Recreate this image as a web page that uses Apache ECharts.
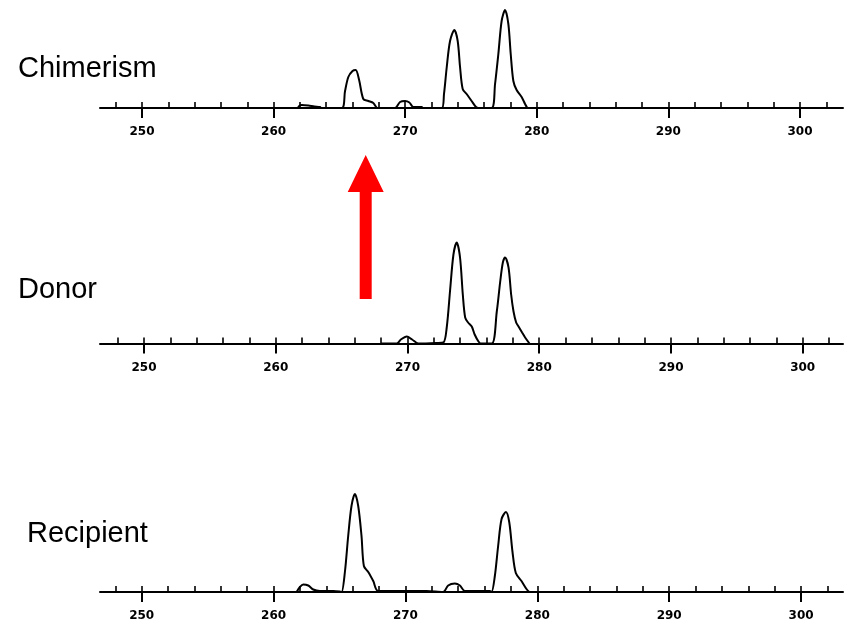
<!DOCTYPE html>
<html>
<head>
<meta charset="utf-8">
<script src="https://cdn.jsdelivr.net/npm/echarts@6/dist/echarts.min.js"></script>
<style>
  html, body { margin: 0; padding: 0; background: #ffffff; }
  #chart { width: 848px; height: 624px; }
</style>
</head>
<body>
<div id="chart"></div>
<script>
// Fragment sizes (bp) and signal heights for each electropherogram trace
const chimerismSize = [261.85, 261.95, 262.14, 262.64, 263.1, 263.53, 263.62, 265.18, 265.43, 265.68, 266.0, 266.24, 266.5, 266.82, 267.2, 267.58, 267.89, 269.23, 269.61, 269.99, 270.32, 270.62, 271.26, 271.32, 272.78, 272.95, 273.16, 273.41, 273.74, 273.99, 274.17, 274.37, 274.67, 275.05, 275.38, 275.56, 276.57, 276.83, 277.08, 277.33, 277.59, 277.84, 278.02, 278.22, 278.47, 278.85, 279.11, 279.28];
const chimerismSignal = [0, 2, 3, 2.5, 1.5, 1, 0, 0, 17, 31, 37, 38, 28, 9, 7, 5, 0, 0, 6, 7, 5.5, 1, 1, 0, 0, 14, 41, 67, 78, 67, 41, 19, 14, 7, 1, 0, 0, 24, 54, 87, 98, 84, 54, 27, 18, 11, 4, 0];

const donorSize = [268.0, 269.19, 269.5, 269.95, 270.35, 270.83, 272.2, 272.73, 272.98, 273.24, 273.49, 273.74, 273.99, 274.2, 274.38, 274.6, 274.88, 275.1, 275.39, 275.56, 276.4, 276.78, 277.04, 277.24, 277.41, 277.67, 277.87, 278.05, 278.25, 278.43, 278.7, 278.93, 279.26];
const donorSignal = [0, 0, 4, 7, 4, 0, 0.5, 1, 16, 54, 89, 101, 86, 49, 26, 21, 17, 9, 2, 0, 0, 32, 62, 81, 86, 76, 49, 32, 21, 17, 11, 6, 0];

const recipientSize = [261.75, 262.0, 262.25, 262.63, 263.01, 263.51, 264.52, 265.03, 265.16, 265.41, 265.66, 265.91, 266.17, 266.42, 266.67, 266.85, 267.18, 267.56, 267.94, 271.6, 272.86, 273.24, 273.75, 274.13, 274.51, 276.4, 276.53, 276.78, 277.03, 277.29, 277.62, 277.87, 278.12, 278.37, 278.8, 279.18, 279.38];
const recipientSignal = [0, 5, 7.5, 6.5, 2.5, 1, 1, 0.5, 0, 20, 56, 86, 98, 86, 56, 26, 20, 11, 1, 1, 0, 6.5, 8.5, 6.5, 1, 1, 0, 16, 46, 73, 80, 70, 40, 19, 11, 3, 0];

// Axis ticks (bp)
const majorTicks = [250, 260, 270, 280, 290, 300];
const minorTicks = [248, 250, 252, 254, 256, 258, 260, 262, 264, 266, 268, 270, 272, 274, 276, 278, 280, 282, 284, 286, 288, 290, 292, 294, 296, 298, 300, 302];

const panelNames = ['Chimerism', 'Donor', 'Recipient'];
const panelSizes = [chimerismSize, donorSize, recipientSize];
const panelSignals = [chimerismSignal, donorSignal, recipientSignal];

// Layout of the three stacked panels
const layout = [
  { baseline: 108,   xMin: 246.81, xMax: 303.27, nameLeft: 18, nameTop: 54 },
  { baseline: 343.5, xMin: 246.66, xMax: 303.06, nameLeft: 18, nameTop: 275 },
  { baseline: 592,   xMin: 246.84, xMax: 303.18, nameLeft: 27, nameTop: 519 }
];
const PANEL_HEIGHT = 105;
const CHART_H = 624;

const grids = [], xAxes = [], yAxes = [], series = [], titles = [];

layout.forEach((p, i) => {
  grids.push({
    left: 100, right: 5,
    top: p.baseline - PANEL_HEIGHT,
    bottom: CHART_H - p.baseline
  });
  // main axis: line, long ticks below, labels
  xAxes.push({
    type: 'value', gridIndex: i, min: p.xMin, max: p.xMax, position: 'bottom',
    axisLine: { show: true, onZero: false, lineStyle: { color: '#000', width: 2 } },
    axisTick: { show: true, inside: false, length: 10, customValues: majorTicks,
                lineStyle: { color: '#000', width: 2 } },
    axisLabel: { show: true, customValues: majorTicks, margin: 18, color: '#000',
                 fontFamily: 'DejaVu Sans', fontWeight: 'bold', fontSize: 12 },
    splitLine: { show: false }
  });
  // short ticks above the axis every 2 bp
  xAxes.push({
    type: 'value', gridIndex: i, min: p.xMin, max: p.xMax, position: 'bottom',
    axisLine: { show: false, onZero: false },
    axisTick: { show: true, inside: true, length: 6, customValues: minorTicks,
                lineStyle: { color: '#000', width: 1.6 } },
    axisLabel: { show: false },
    splitLine: { show: false }
  });
  yAxes.push({
    type: 'value', gridIndex: i, min: 0, max: PANEL_HEIGHT, show: false
  });
  series.push({
    name: panelNames[i],
    type: 'line',
    xAxisIndex: i * 2, yAxisIndex: i,
    data: panelSizes[i].map((s, k) => [s, panelSignals[i][k]]),
    showSymbol: false, symbol: 'none',
    smooth: 0.3,
    lineStyle: { color: '#000', width: 2 },
    animation: false,
    z: 3
  });
  titles.push({
    text: panelNames[i], left: p.nameLeft, top: p.nameTop, padding: 0,
    textStyle: { fontFamily: 'Liberation Sans, Arial, sans-serif', fontSize: 29,
                 fontWeight: 'normal', color: '#000' }
  });
});

const chart = echarts.init(document.getElementById('chart'), null, { renderer: 'canvas' });
chart.setOption({
  backgroundColor: '#ffffff',
  animation: false,
  title: titles,
  grid: grids,
  xAxis: xAxes,
  yAxis: yAxes,
  series: series
});

// Red arrow marking the recipient-specific allele (~267 bp) in the chimerism trace
const arrowX = chart.convertToPixel({ xAxisIndex: 0 }, 267);
chart.setOption({
  graphic: [{
    type: 'polygon',
    shape: {
      points: [
        [arrowX, 155], [arrowX + 18, 192], [arrowX + 6, 192], [arrowX + 6, 299],
        [arrowX - 6, 299], [arrowX - 6, 192], [arrowX - 18, 192]
      ]
    },
    style: { fill: '#ff0000' },
    z: 10
  }]
});
</script>
</body>
</html>
